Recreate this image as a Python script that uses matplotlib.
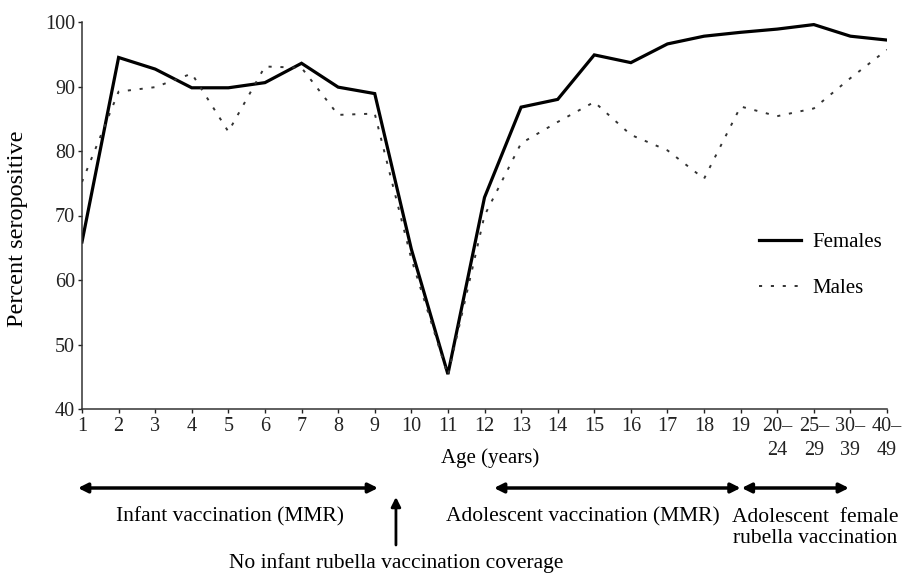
import matplotlib.pyplot as plt

# age groups (positions 1..23 on the x axis)
age_labels = [str(a) for a in range(1, 20)] + ["20\u2013\n24", "25\u2013\n29", "30\u2013\n39", "40\u2013\n49"]
positions = list(range(1, 24))

# percent seropositive
females = [65.9, 94.5, 92.7, 89.8, 89.8, 90.6, 93.6, 89.9, 88.9, 64.8, 45.4,
           72.8, 86.8, 88.0, 94.9, 93.7, 96.6, 97.8, 98.4, 98.9, 99.6, 97.8, 97.2]
males = [75.2, 89.2, 89.9, 92.0, 83.0, 93.1, 92.9, 85.6, 85.8, 63.3, 45.2,
         70.0, 81.2, 84.5, 87.6, 82.5, 80.1, 75.7, 86.9, 85.4, 86.6, 91.3, 95.7]

plt.rcParams['font.family'] = ['Liberation Serif', 'DejaVu Serif']
plt.rcParams['font.size'] = 14.5

fig = plt.figure(figsize=(9.06, 5.75), dpi=100)
ax = fig.add_axes([82 / 906, 1 - 409 / 575, (887 - 82) / 906, (409 - 22) / 575])

ax.plot(positions, females, color='black', lw=2.3, label='Females', solid_joinstyle='miter')
ax.plot(positions, males, color='#333333', lw=1.4, linestyle=(0, (1.6, 4.5)), label='Males')

ax.set_xlim(1, 23)
ax.set_ylim(40, 100)
ax.set_yticks(range(40, 101, 10))
ax.set_xticks(positions)
ax.set_xticklabels(age_labels, linespacing=1.3, va='top')
ax.tick_params(direction='out', length=3, width=1, pad=2, colors='#222222', labelcolor='#222222')
ax.tick_params(axis='x', pad=3)
for side in ['top', 'right']:
    ax.spines[side].set_visible(False)
for side in ['left', 'bottom']:
    ax.spines[side].set_linewidth(1.1)
    ax.spines[side].set_color('#333333')

ax.set_ylabel('Percent seropositive', fontsize=17.5)
ax.yaxis.set_label_coords(-54 / 805, (409 - 229) / 387)
fig.text(490 / 906, 1 - 458 / 575, 'Age (years)', ha='center', va='center', fontsize=15)

leg = fig.legend(loc='center left', bbox_to_anchor=(759 / 906, 1 - 265.5 / 575),
                 bbox_transform=fig.transFigure, frameon=False, borderpad=0, fontsize=15,
                 borderaxespad=0, handlelength=2.0, handletextpad=0.55, labelspacing=1.25)

# vaccination period arrows below the axis
arr = dict(arrowstyle='<|-|>', lw=2.5, color='black', mutation_scale=14, shrinkA=0, shrinkB=0)
y_arr = 1 - 488 / 575
for x0, x1 in [(0.89, 9.09), (12.26, 19.0), (19.03, 21.96)]:
    ax.annotate('', xy=(x1, y_arr), xytext=(x0, y_arr), xycoords=('data', 'figure fraction'),
                arrowprops=arr, annotation_clip=False)

ax.annotate('', xy=(9.58, 1 - 497 / 575), xytext=(9.58, 1 - 545 / 575),
            xycoords=('data', 'figure fraction'),
            arrowprops=dict(arrowstyle='-|>', lw=2, color='black', mutation_scale=14,
                            shrinkA=0, shrinkB=0), annotation_clip=False)

y_txt = 1 - 517 / 575
ax.annotate('Infant vaccination (MMR)', xy=(5.04, y_txt), xycoords=('data', 'figure fraction'),
            ha='center', va='center', fontsize=15.5, annotation_clip=False)
ax.annotate('Adolescent vaccination (MMR)', xy=(14.69, y_txt), xycoords=('data', 'figure fraction'),
            ha='center', va='center', fontsize=15.5, annotation_clip=False)
ax.annotate('Adolescent  female\nrubella vaccination', xy=(21.03, 1 - 528 / 575),
            xycoords=('data', 'figure fraction'), ha='center', va='center', fontsize=15.5,
            linespacing=1.1, annotation_clip=False)
ax.annotate('No infant rubella vaccination coverage', xy=(9.58, 1 - 563 / 575),
            xycoords=('data', 'figure fraction'), ha='center', va='center', fontsize=15.5,
            annotation_clip=False)

fig.savefig('out.png', dpi=100)
